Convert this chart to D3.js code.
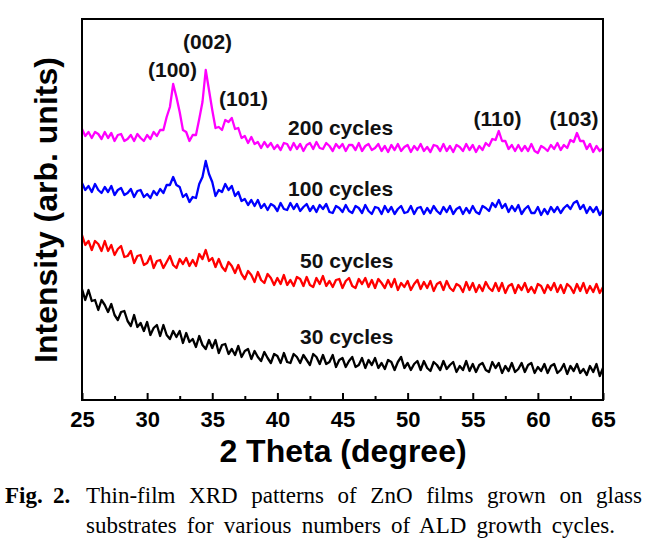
<!DOCTYPE html>
<html>
<head>
<meta charset="utf-8">
<script src="https://cdn.jsdelivr.net/npm/d3@7"></script>
<style>
  html, body { margin: 0; padding: 0; background: #fff; }
  svg { display: block; }
</style>
</head>
<body>
<svg id="chart" width="653" height="551"></svg>
<script>
// ---------- DATA ----------
const angleStart = 25, angleEnd = 65, angleStep = 0.25;   // 2θ sampling (degree)
const xTicks = [25, 30, 35, 40, 45, 50, 55, 60, 65];
const xMinorTicks = [27.5, 32.5, 37.5, 42.5, 47.5, 52.5, 57.5, 62.5];

const seriesNames = ["30 cycles", "50 cycles", "100 cycles", "200 cycles"];
const seriesColors = ["#000000", "#ff0000", "#0000ff", "#ff00ff"];

// Intensity (arb. units), one value every 0.25 degree from 25 to 65
const cycles30 = [
  111,100,110,99,100,90,100,95,
  88,96,85,80,88,89,79,74,
  85,73,77,69,78,65,72,75,
  64,75,65,61,69,63,69,57,
  67,58,61,53,64,55,51,60,
  52,60,47,55,56,46,51,45,
  54,43,49,51,41,49,43,39,
  48,42,37,46,44,37,47,38,
  37,46,43,37,45,40,35,46,
  43,36,45,36,38,45,33,40,
  42,33,39,43,33,35,42,32,
  40,35,42,32,37,31,40,38,
  30,38,43,32,37,30,36,39,
  30,39,32,29,38,35,30,39,
  31,35,38,28,34,30,39,29,
  36,28,35,37,30,28,38,32,
  37,27,34,29,37,28,31,37,
  28,35,37,27,33,29,36,27,
  34,36,27,30,36,26,34,29,
  36,27,31,25,34,28,36,24,
  32
];
const cycles50 = [
  165,155,159,150,159,156,149,159,
  149,155,145,151,154,143,144,149,
  137,144,145,135,137,144,132,139,
  140,132,138,144,135,132,141,136,
  142,134,140,134,146,141,150,139,
  142,133,141,133,129,138,134,127,
  135,126,121,129,125,118,128,120,
  117,126,122,115,122,116,125,115,
  120,114,123,121,114,123,115,113,
  122,116,124,114,119,113,120,121,
  112,119,122,114,112,121,116,122,
  113,120,112,121,117,112,120,113,
  121,110,117,113,119,110,116,120,
  111,118,112,119,109,116,118,110,
  119,112,109,116,114,108,118,110,
  117,108,115,109,118,112,109,117,
  109,117,107,114,116,107,115,110,
  117,108,113,107,116,114,107,115,
  110,117,108,115,107,116,113,107,
  116,109,117,107,114,108,116,107,
  113
];
const cycles100 = [
  217,210,214,208,216,210,207,213,
  208,214,205,210,212,205,207,211,
  203,209,210,203,206,202,209,205,
  211,207,215,215,223,215,213,203,
  206,198,203,202,216,223,239,226,
  218,204,210,208,216,210,214,204,
  208,199,201,195,200,194,200,192,
  196,190,196,194,189,197,191,190,
  197,191,196,189,193,196,189,194,
  188,195,191,196,188,187,194,192,
  188,195,189,187,194,192,187,195,
  189,186,193,192,186,194,188,193,
  186,191,194,187,188,194,186,192,
  193,186,192,187,194,189,186,193,
  188,194,186,191,193,186,192,187,
  194,188,186,194,192,189,197,193,
  200,192,196,188,194,189,195,186,
  191,194,187,187,193,185,191,186,
  193,188,193,187,192,195,191,197,
  199,191,195,187,193,188,193,185,
  190
];
const cycles200 = [
  271,264,268,262,268,266,261,268,
  262,267,259,265,266,259,261,265,
  259,266,262,259,265,261,268,264,
  270,270,283,293,316,303,288,270,
  268,259,265,265,281,298,330,310,
  290,272,273,270,280,278,282,271,
  272,262,264,257,263,256,258,252,
  258,253,257,251,255,250,257,256,
  250,257,251,256,249,255,257,251,
  258,252,251,257,254,249,256,252,
  256,249,255,255,250,257,249,254,
  256,250,252,256,249,254,248,255,
  250,256,249,253,255,248,254,250,
  256,249,253,248,255,254,249,256,
  249,254,248,255,253,249,256,250,
  255,248,254,250,257,254,261,260,
  269,259,259,251,255,249,255,249,
  254,249,256,249,247,254,252,249,
  255,251,257,250,255,252,260,258,
  267,259,259,251,256,248,254,249,
  252
];

// Series labels: text, 2θ at start, intensity at baseline
const seriesLabelText = ["30 cycles", "50 cycles", "100 cycles", "200 cycles"];
const seriesLabelAngle = [41.74, 41.74, 40.82, 40.82];
const seriesLabelLevel = [56, 132, 204, 265];

// Miller index labels
const peakLabels = ["(100)", "(002)", "(101)", "(110)", "(103)"];
const peakLabelAngle = [31.95, 34.64, 37.4, 56.9, 62.77];
const peakLabelLevel = [323, 351, 294, 274, 274];

const xTitle = "2 Theta (degree)";
const yTitle = "Intensity (arb. units)";
const captionBold1 = "Fig.";
const captionBold2 = "2.";
const captionLine1 = "Thin-film XRD patterns of ZnO films grown on glass";
const captionLine2 = "substrates for various numbers of ALD growth cycles.";

// ---------- DRAWING ----------
const svg = d3.select("#chart");
const plot = { left: 82, top: 19, right: 603, bottom: 400 };
const sans = "'Liberation Sans', Arial, Helvetica, sans-serif";
const serif = "'Liberation Serif', 'Times New Roman', Times, serif";

const x = d3.scaleLinear().domain([angleStart, angleEnd]).range([plot.left, plot.right]);
const y = d3.scaleLinear().domain([0, 381]).range([plot.bottom, plot.top]);

const angles = d3.range(0, cycles30.length).map(i => angleStart + i * angleStep);
const allSeries = [cycles30, cycles50, cycles100, cycles200];

const line = d3.line().x((d, i) => x(angles[i])).y(d => y(d));

svg.append("g").selectAll("path")
  .data(allSeries)
  .join("path")
  .attr("d", d => line(d))
  .attr("fill", "none")
  .attr("stroke", (d, i) => seriesColors[i])
  .attr("stroke-width", 2.3)
  .attr("stroke-linejoin", "round");

// frame
svg.append("rect")
  .attr("x", plot.left).attr("y", plot.top)
  .attr("width", plot.right - plot.left).attr("height", plot.bottom - plot.top)
  .attr("fill", "none").attr("stroke", "#000").attr("stroke-width", 2);

// bottom axis major ticks (inward)
const axMajor = svg.append("g")
  .attr("transform", `translate(0,${plot.bottom})`)
  .call(d3.axisBottom(x).tickValues(xTicks).tickSize(-7).tickFormat(d3.format("d")));
axMajor.select(".domain").remove();
axMajor.selectAll(".tick line").attr("stroke", "#000").attr("stroke-width", 2);
axMajor.selectAll(".tick text")
  .attr("y", 27).attr("dy", null)
  .attr("fill", "#000")
  .style("font-family", sans).style("font-weight", "bold").style("font-size", "22px");

// minor ticks
const axMinor = svg.append("g")
  .attr("transform", `translate(0,${plot.bottom})`)
  .call(d3.axisBottom(x).tickValues(xMinorTicks).tickSize(-4).tickFormat(""));
axMinor.select(".domain").remove();
axMinor.selectAll(".tick line").attr("stroke", "#000").attr("stroke-width", 2);

// axis titles
svg.append("text")
  .attr("x", (plot.left + plot.right) / 2 + 0.5).attr("y", 462)
  .attr("text-anchor", "middle")
  .style("font-family", sans).style("font-weight", "bold").style("font-size", "32px")
  .text(xTitle);

svg.append("text")
  .attr("transform", `translate(57,${(57 + 363) / 2}) rotate(-90)`)
  .attr("text-anchor", "middle")
  .style("font-family", sans).style("font-weight", "bold").style("font-size", "32px")
  .text(yTitle);

// series labels
svg.append("g").selectAll("text")
  .data(seriesLabelText)
  .join("text")
  .attr("x", (d, i) => x(seriesLabelAngle[i]))
  .attr("y", (d, i) => y(seriesLabelLevel[i]))
  .style("font-family", sans).style("font-weight", "bold").style("font-size", "21px")
  .attr("fill", "#111")
  .text(d => d);

// peak labels
svg.append("g").selectAll("text")
  .data(peakLabels)
  .join("text")
  .attr("x", (d, i) => x(peakLabelAngle[i]))
  .attr("y", (d, i) => y(peakLabelLevel[i]))
  .attr("text-anchor", "middle")
  .style("font-family", sans).style("font-weight", "bold").style("font-size", "21px")
  .attr("fill", "#111")
  .text(d => d);

// caption
const capSize = "23px";
svg.append("text").attr("x", 5).attr("y", 503)
  .style("font-family", serif).style("font-weight", "bold").style("font-size", capSize)
  .text(captionBold1);
svg.append("text").attr("x", 53).attr("y", 503)
  .style("font-family", serif).style("font-weight", "bold").style("font-size", capSize)
  .text(captionBold2);

function justified(txt, x0, x1, yy) {
  const t = svg.append("text").attr("x", x0).attr("y", yy)
    .style("font-family", serif).style("font-size", capSize)
    .text(txt);
  const w = t.node().getComputedTextLength();
  const spaces = (txt.match(/ /g) || []).length;
  if (spaces > 0) t.attr("word-spacing", (x1 - x0 - w) / spaces);
  return t;
}
justified(captionLine1, 86, 642, 503);
justified(captionLine2, 86, 615, 533);
</script>
</body>
</html>
